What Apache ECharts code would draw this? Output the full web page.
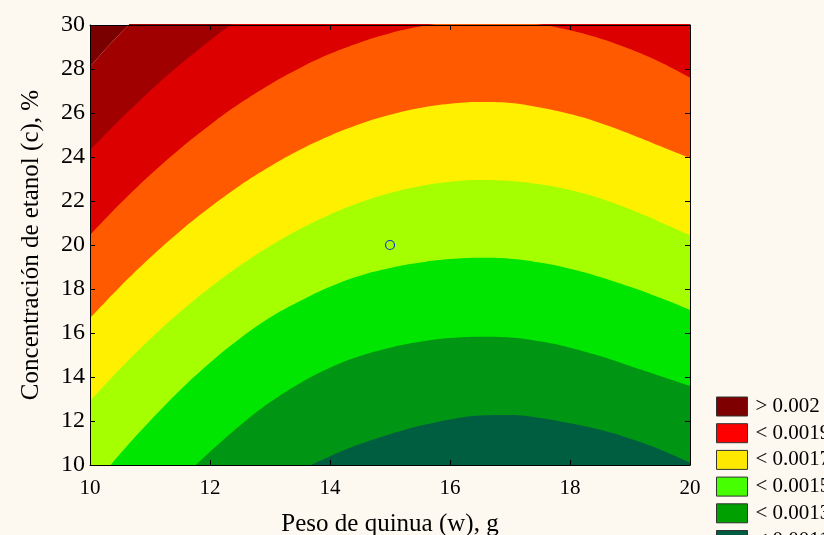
<!DOCTYPE html>
<html>
<head>
<meta charset="utf-8">
<script src="https://cdn.jsdelivr.net/npm/echarts@6/dist/echarts.min.js"></script>
<style>
  html, body { margin: 0; padding: 0; background: #FDF9F0; }
  #chart { width: 824px; height: 535px; }
</style>
</head>
<body>
<div id="chart"></div>
<script>
// ---- Data (contour boundaries, c as a function of w) ----
const xs = [10, 10.5, 11, 11.5, 12, 12.5, 13, 13.5, 14, 14.5, 15, 15.5, 16, 16.5, 17, 17.5, 18, 18.5, 19, 19.5, 20];
const b1 = [28.1, 29.6, 30.9, 32.0, 33.1, 34.1, 34.95, 35.7, 36.35, 36.85, 37.3, 37.6, 37.75, 37.85, 37.8, 37.65, 37.4, 37.05, 36.55, 35.95, 35.25];
const b2 = [24.3, 25.7, 27.0, 28.2, 29.3, 30.3, 31.15, 31.9, 32.55, 33.05, 33.45, 33.75, 33.95, 34.05, 34.0, 33.85, 33.6, 33.2, 32.75, 32.15, 31.45];
const b3 = [20.45, 21.87, 23.18, 24.38, 25.46, 26.44, 27.3, 28.05, 28.69, 29.21, 29.63, 29.93, 30.12, 30.2, 30.16, 30.02, 29.76, 29.39, 28.91, 28.32, 27.61];
const b4 = [16.67, 18.1, 19.42, 20.63, 21.72, 22.71, 23.57, 24.33, 24.97, 25.5, 25.92, 26.23, 26.42, 26.5, 26.46, 26.25, 25.95, 25.55, 25.05, 24.5, 23.95];
const b5 = [12.9, 14.37, 15.72, 16.95, 18.07, 19.07, 19.96, 20.73, 21.39, 21.93, 22.36, 22.67, 22.87, 22.95, 22.91, 22.76, 22.5, 22.12, 21.62, 21.05, 20.45];
const b6 = [8.9, 10.5, 12.0, 13.4, 14.65, 15.75, 16.7, 17.45, 18.1, 18.6, 18.95, 19.2, 19.36, 19.42, 19.38, 19.2, 18.92, 18.55, 18.1, 17.6, 17.05];
const b7 = [4.7, 6.35, 7.9, 9.3, 10.6, 11.8, 12.85, 13.72, 14.42, 14.95, 15.33, 15.6, 15.77, 15.83, 15.8, 15.62, 15.33, 14.95, 14.5, 14.05, 13.6];
const b8 = [0.6, 2.5, 4.2, 5.7, 7.0, 8.1, 9.0, 9.75, 10.4, 10.95, 11.4, 11.78, 12.07, 12.25, 12.27, 12.14, 11.9, 11.6, 11.2, 10.7, 10.1];

// design point (centre)
const designW = [15];
const designC = [20];

// legend labels
const legendLabels = ['> 0.002', '< 0.0019', '< 0.0017', '< 0.0015', '< 0.0013', '< 0.0011'];

// ---- Styles ----
const topColor = '#7A0000';
const fillBelow = ['#A00000', '#DC0000', '#FF5A00', '#FFF000', '#A6FF00', '#00E600', '#009614', '#005E40'];
const legendColors = ['#7F0000', '#FF0000', '#FFE800', '#46FF00', '#00A000', '#005C40'];
const serif = 'Liberation Serif';

const curves = [b1, b2, b3, b4, b5, b6, b7, b8];
const toPts = c => xs.map((x, i) => [x, c[i]]);

const series = [];
series.push({
  type: 'line', data: toPts(b1), smooth: 0.4, showSymbol: false, symbol: 'none',
  lineStyle: { opacity: 0 }, areaStyle: { color: topColor, opacity: 1, origin: 'end' },
  silent: true, clip: true, z: 2
});
curves.forEach((c, k) => {
  series.push({
    type: 'line', data: toPts(c), smooth: 0.4, showSymbol: false, symbol: 'none',
    lineStyle: { opacity: 0 }, areaStyle: { color: fillBelow[k], opacity: 1, origin: 'start' },
    silent: true, clip: true, z: 2
  });
});
series.push({
  type: 'scatter', data: designW.map((w, i) => [w, designC[i]]),
  symbol: 'circle', symbolSize: 9, clip: true, z: 5, silent: true,
  itemStyle: { color: 'rgba(0,0,0,0)', borderColor: '#2030D0', borderWidth: 1.2, opacity: 1 }
});
legendLabels.forEach((n, i) => {
  series.push({ name: n, type: 'scatter', data: [], itemStyle: { color: legendColors[i], opacity: 1 } });
});

const axisCommon = {
  type: 'value', splitLine: { show: false }, z: 10,
  axisLine: { show: true, onZero: false, lineStyle: { color: '#000', width: 1 } },
  axisTick: { show: true, inside: true, length: 5, lineStyle: { color: '#000' } }
};

const option = {
  backgroundColor: '#FDF9F0',
  animation: false,
  grid: { left: 90, right: 134, top: 25, bottom: 70, show: false, containLabel: false, outerBoundsMode: 'none' },
  xAxis: [
    Object.assign({}, axisCommon, {
      min: 10, max: 20, interval: 2, position: 'bottom',
      axisLabel: { fontFamily: serif, fontSize: 21, color: '#000', margin: 13 },
      name: 'Peso de quinua (w), g', nameLocation: 'middle', nameGap: 47,
      nameTextStyle: { fontFamily: serif, fontSize: 25, color: '#000' }
    }),
    Object.assign({}, axisCommon, {
      min: 10, max: 20, interval: 2, position: 'top', axisLabel: { show: false }
    })
  ],
  yAxis: [
    Object.assign({}, axisCommon, {
      min: 10, max: 30, interval: 2, position: 'left',
      axisLabel: { fontFamily: serif, fontSize: 24, color: '#000', margin: 5 },
      name: 'Concentración de etanol (c), %', nameLocation: 'middle', nameGap: 46,
      nameTextStyle: { fontFamily: serif, fontSize: 25, color: '#000' }
    }),
    Object.assign({}, axisCommon, {
      min: 10, max: 30, interval: 2, position: 'right', axisLabel: { show: false }
    })
  ],
  legend: {
    orient: 'vertical', left: 716, top: 396, height: 300, padding: 0,
    itemWidth: 31, itemHeight: 19, itemGap: 5.7, icon: 'rect', selectedMode: false,
    itemStyle: { borderColor: '#333', borderWidth: 1, opacity: 1 },
    textStyle: { fontFamily: serif, fontSize: 21, color: '#000', padding: [0, 0, 0, 3] },
    data: legendLabels.map((n, i) => ({ name: n, itemStyle: { color: legendColors[i], borderColor: '#333', borderWidth: 1, opacity: 1 } }))
  },
  series: series
};

const chart = echarts.init(document.getElementById('chart'));
chart.setOption(option);
</script>
</body>
</html>
